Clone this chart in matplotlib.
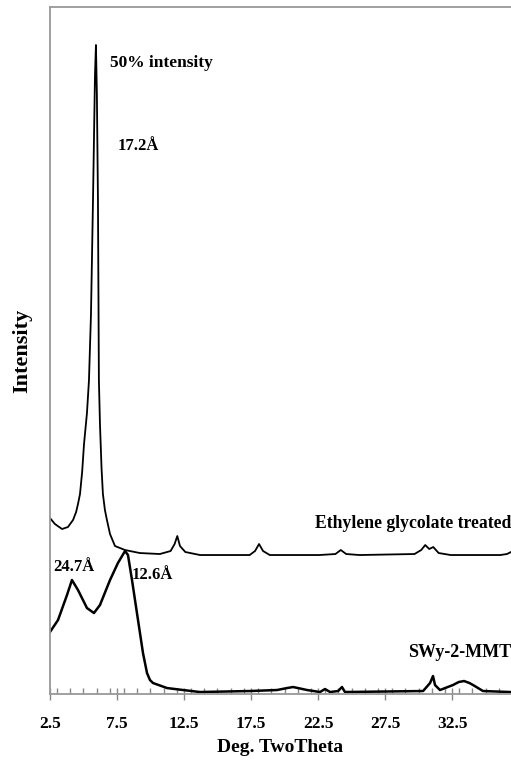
import matplotlib
matplotlib.use('Agg')
import matplotlib.pyplot as plt
from matplotlib.ticker import MultipleLocator

# ethylene glycolate treated pattern (upper trace), intensity in arbitrary units
eg_theta = [2.5, 2.87, 3.4, 3.84, 4.22, 4.45, 4.59, 4.74, 4.9, 5.04, 5.26, 5.41, 5.56, 5.71,
            5.86, 5.93, 6.0, 6.08, 6.15, 6.23, 6.35, 6.45, 6.6, 6.75, 6.98, 7.35, 8.1, 9.2,
            10.7, 11.5, 11.8, 12.0, 12.2, 12.6, 13.7, 17.4, 17.8, 18.1, 18.4, 18.9,
            22.6, 23.8, 24.2, 24.6, 25.6, 29.7, 30.2, 30.5, 30.8, 31.1, 31.5, 32.4,
            36.1, 36.6, 36.9]
eg_int = [176, 170, 165, 167, 174, 182, 190, 200, 222, 250, 281, 314, 380, 494,
          620, 649, 600, 494, 314, 270, 225, 200, 184, 174, 160, 148, 144, 141,
          140, 143, 150, 158, 148, 142, 139, 139, 143, 150, 143, 139,
          139, 140, 144, 140, 139, 140, 144, 149, 145, 147, 141, 139,
          139, 140, 142]

# untreated SWy-2-MMT (lower trace)
mmt_theta = [2.5, 3.1, 3.77, 4.14, 4.59, 5.26, 5.78, 6.23, 6.98, 7.57, 8.1, 8.32,
             8.62, 8.99, 9.44, 9.74, 9.96, 10.19, 11.23, 12.43, 13.69, 17.43, 19.44,
             20.2, 20.63, 21.0, 21.68, 22.65, 23.02, 23.4, 24.0, 24.29, 24.51, 30.34,
             30.86, 31.08, 31.23, 31.6, 32.57, 33.0, 33.4, 33.8, 34.07, 34.81, 36.83]
mmt_int = [62, 74, 99, 114, 104, 86, 81, 89, 114, 131, 143, 139,
           114, 81, 41, 21, 14, 11, 6, 4, 2, 3, 4,
           6, 7, 6, 4, 2, 5, 2, 3, 7, 2, 3,
           11, 18, 9, 4, 9, 12, 13, 11, 9, 3, 2]

xticks = [2.5, 7.5, 12.5, 17.5, 22.5, 27.5, 32.5]

SERIF = ['Liberation Serif', 'DejaVu Serif']
plt.rcParams['font.family'] = SERIF
plt.rcParams['font.weight'] = 'bold'

fig = plt.figure(figsize=(5.11, 7.63), dpi=100)
ax = fig.add_axes([0.0978, 0.0904, 0.9022, 0.9004])

ax.plot(eg_theta, eg_int, color='black', lw=1.3)
ax.plot(mmt_theta, mmt_int, color='black', lw=1.8)

ax.set_xlim(2.5, 36.9)
ax.set_ylim(0, 687)

ax.set_xticks(xticks)
ax.set_xticklabels([f"{t:.1f}" for t in xticks], fontsize=12.5, fontweight='bold')
ax.xaxis.set_minor_locator(MultipleLocator(1.0))
ax.tick_params(axis='x', which='major', direction='inout', length=8, width=1,
               color='#888888', pad=12)
ax.tick_params(axis='x', which='minor', direction='in', length=4, width=1,
               color='#888888')
ax.set_yticks([])

for side in ['left', 'top', 'bottom']:
    ax.spines[side].set_color('#999999')
    ax.spines[side].set_linewidth(1.3)
ax.spines['right'].set_visible(False)

ax.set_xlabel("Deg. TwoTheta", fontsize=14, fontweight='bold', labelpad=5)
ax.set_ylabel("Intensity", fontsize=16, fontweight='bold', labelpad=13)

# annotations
ax.text(6.98, 627, "50% intensity", fontsize=12.5, fontweight='bold')
ax.text(7.57, 544, "17.2Å", fontsize=12, fontweight='bold')
ax.text(36.9, 166, "Ethylene glycolate treated", fontsize=12.7, fontweight='bold',
        ha='right')
ax.text(2.72, 123, "24.7Å", fontsize=12, fontweight='bold')
ax.text(8.62, 115, "12.6Å", fontsize=12, fontweight='bold')
ax.text(36.9, 37, "SWy-2-MMT", fontsize=13, fontweight='bold', ha='right')

fig.savefig('out.png', dpi=100, facecolor='white')
